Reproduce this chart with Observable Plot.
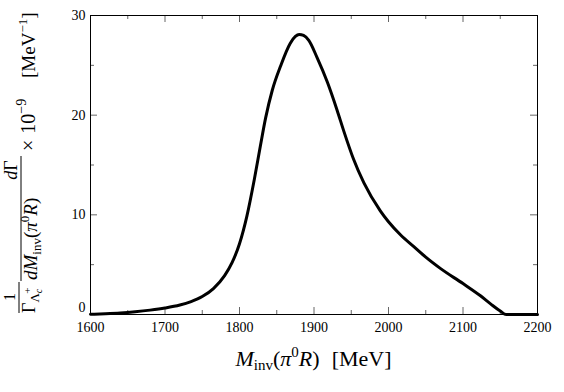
<!DOCTYPE html>
<html>
<head>
<meta charset="utf-8">
<script src="https://cdn.jsdelivr.net/npm/d3@7"></script>
<script src="https://cdn.jsdelivr.net/npm/@observablehq/plot@0.6"></script>
<style>
  html, body { margin: 0; padding: 0; background: #fff; }
  svg { display: block; }
  svg text, svg tspan { font-family: "Liberation Serif", "Times New Roman", serif !important; }
</style>
</head>
<body>
<div id="chart"></div>
<script>
// Invariant mass M_inv(pi0 R) in MeV
const massMeV = [1600, 1620, 1640, 1660, 1680, 1700, 1720, 1735, 1750, 1765, 1780, 1790, 1800, 1810, 1820, 1828, 1835, 1844, 1855, 1868, 1875, 1880, 1886, 1893, 1904, 1918, 1931, 1940, 1953, 1967, 1989, 2000, 2016, 2034, 2050, 2070, 2100, 2123, 2137, 2150, 2158, 2170, 2200];
// (1/Gamma) dGamma/dM_inv x 1e-9 [MeV^-1]
const rate = [0.02, 0.08, 0.16, 0.28, 0.44, 0.65, 0.95, 1.3, 1.8, 2.6, 3.9, 5.2, 7.1, 9.9, 13.6, 16.9, 19.7, 22.5, 24.9, 27.2, 27.9, 28.1, 28.0, 27.5, 25.8, 23.3, 20.5, 18.4, 15.6, 13.2, 10.4, 9.3, 8.0, 6.8, 5.75, 4.6, 3.1, 1.9, 1.07, 0.35, 0, 0, 0];

const xMajorTicks = [1600, 1700, 1800, 1900, 2000, 2100, 2200];
const xTickLabels = ["1600", "1700", "1800", "1900", "2000", "2100", "2200"];
const xMinorTicks = [1650, 1750, 1850, 1950, 2050, 2150];
const yMajorTicks = [0, 10, 20, 30];
const yTickLabels = ["0", "10", "20", "30"];
const yMinorTicks = [5, 15, 25];

const data = massMeV.map((m, i) => ({m, v: rate[i]}));

const W = 564, H = 392;
const mL = 90, mR = 27, mT = 15, mB = 78;
const pw = W - mL - mR, ph = H - mT - mB;
const font = "Liberation Serif";
const tickColor = "#666";
const majorLen = 7, minorLen = 4;

const chart = Plot.plot({
  width: W, height: H,
  marginLeft: mL, marginRight: mR, marginTop: mT, marginBottom: mB,
  style: {fontFamily: font, fontSize: "14px", background: "#fff", color: "#000"},
  x: {domain: [1600, 2200], axis: null},
  y: {domain: [0, 30], axis: null},
  marks: [
    // inward ticks on all four sides
    Plot.ruleX(xMajorTicks, {x: d => d, stroke: tickColor, insetTop: ph - majorLen}),
    Plot.ruleX(xMajorTicks, {x: d => d, stroke: tickColor, insetBottom: ph - majorLen}),
    Plot.ruleX(xMinorTicks, {x: d => d, stroke: tickColor, insetTop: ph - minorLen}),
    Plot.ruleX(xMinorTicks, {x: d => d, stroke: tickColor, insetBottom: ph - minorLen}),
    Plot.ruleY(yMajorTicks, {y: d => d, stroke: tickColor, insetRight: pw - majorLen}),
    Plot.ruleY(yMajorTicks, {y: d => d, stroke: tickColor, insetLeft: pw - majorLen}),
    Plot.ruleY(yMinorTicks, {y: d => d, stroke: tickColor, insetRight: pw - minorLen}),
    Plot.ruleY(yMinorTicks, {y: d => d, stroke: tickColor, insetLeft: pw - minorLen}),
    Plot.line(data, {x: "m", y: "v", stroke: "#000", strokeWidth: 3, curve: "monotone-x", strokeLinejoin: "round"}),
    Plot.frame({stroke: "#000", strokeWidth: 1}),
    Plot.text(xMajorTicks, {x: d => d, text: (d, i) => xTickLabels[i], frameAnchor: "bottom", lineAnchor: "top", dy: 8, fill: "#000", fontFamily: font, fontSize: 14}),
    Plot.text(yMajorTicks.slice(1), {y: d => d, text: (d, i) => yTickLabels[i + 1], frameAnchor: "left", textAnchor: "end", lineAnchor: "middle", dx: -5, fill: "#000", fontFamily: font, fontSize: 14}),
    Plot.text(yMajorTicks.slice(0, 1), {y: d => d, text: (d, i) => yTickLabels[i], frameAnchor: "left", textAnchor: "end", lineAnchor: "middle", dx: -5, dy: -7, fill: "#000", fontFamily: font, fontSize: 14})
  ]
});

document.getElementById("chart").appendChild(chart);
const svg = d3.select(chart);

// x-axis label: M_inv(pi^0 R) [MeV]
const xl = svg.append("text")
  .attr("x", (mL + W - mR) / 2).attr("y", 366)
  .attr("text-anchor", "middle")
  .style("font-family", font).style("font-size", "22px").attr("fill", "#000");
xl.append("tspan").attr("font-style", "italic").text("M");
xl.append("tspan").attr("font-size", "15px").attr("dy", 4).text("inv");
xl.append("tspan").attr("dy", -4).text("(");
xl.append("tspan").attr("font-style", "italic").text("π");
xl.append("tspan").attr("font-size", "15px").attr("dy", -9).text("0");
xl.append("tspan").attr("font-style", "italic").attr("dy", 9).text("R");
xl.append("tspan").text(")");
xl.append("tspan").attr("dx", 12).text("[MeV]");

// y-axis label (rotated): 1/Gamma_{Lambda_c^+} dGamma/dM_inv(pi^0 R) x 10^-9 [MeV^-1]
const g = svg.append("g").attr("transform", "rotate(-90)")
  .style("font-family", font).attr("fill", "#000");
// local coords: u = -screenY, v = screenX

// fraction 1: 1 / Gamma_{Lambda_c^+}
g.append("text").attr("x", -297).attr("y", 15).attr("text-anchor", "middle")
  .style("font-size", "16px").text("1");
g.append("line").attr("x1", -313).attr("x2", -282).attr("y1", 19).attr("y2", 19)
  .attr("stroke", "#000").attr("stroke-width", 1);
const d1 = g.append("text").attr("x", -313).attr("y", 35).attr("text-anchor", "start")
  .style("font-size", "18px");
d1.append("tspan").text("Γ");
d1.append("tspan").attr("font-size", "13px").attr("dy", 4).text("Λ");
d1.append("tspan").attr("font-size", "10px").attr("font-style", "italic").attr("dy", 3).text("c");
d1.append("tspan").attr("font-size", "11px").attr("dx", -5).attr("dy", -11).text("+");

// fraction 2: dGamma / dM_inv(pi^0 R)
const n2 = g.append("text").attr("x", -170).attr("y", 17).attr("text-anchor", "middle")
  .style("font-size", "18px");
n2.append("tspan").attr("font-style", "italic").text("d");
n2.append("tspan").text("Γ");
g.append("line").attr("x1", -281).attr("x2", -156).attr("y1", 21).attr("y2", 21)
  .attr("stroke", "#000").attr("stroke-width", 1);
const d2 = g.append("text").attr("x", -280).attr("y", 37).attr("text-anchor", "start")
  .style("font-size", "19px");
d2.append("tspan").attr("font-style", "italic").text("dM");
d2.append("tspan").attr("font-size", "13px").attr("dy", 4).text("inv");
d2.append("tspan").attr("dy", -4).text("(");
d2.append("tspan").attr("font-style", "italic").text("π");
d2.append("tspan").attr("font-size", "13px").attr("dy", -8).text("0");
d2.append("tspan").attr("font-style", "italic").attr("dy", 8).text("R");
d2.append("tspan").text(")");

// x 10^-9
const t3 = g.append("text").attr("x", -151).attr("y", 35).attr("text-anchor", "start")
  .style("font-size", "20px");
t3.append("tspan").text("×");
t3.append("tspan").attr("dx", 6).text("10");
t3.append("tspan").attr("font-size", "14px").attr("dy", -9).text("−9");

// [MeV^-1]
const t4 = g.append("text").attr("x", -78).attr("y", 35).attr("text-anchor", "start")
  .style("font-size", "19px");
t4.append("tspan").text("[MeV");
t4.append("tspan").attr("font-size", "13px").attr("dy", -8).text("−1");
t4.append("tspan").attr("dy", 8).text("]");
</script>
</body>
</html>
